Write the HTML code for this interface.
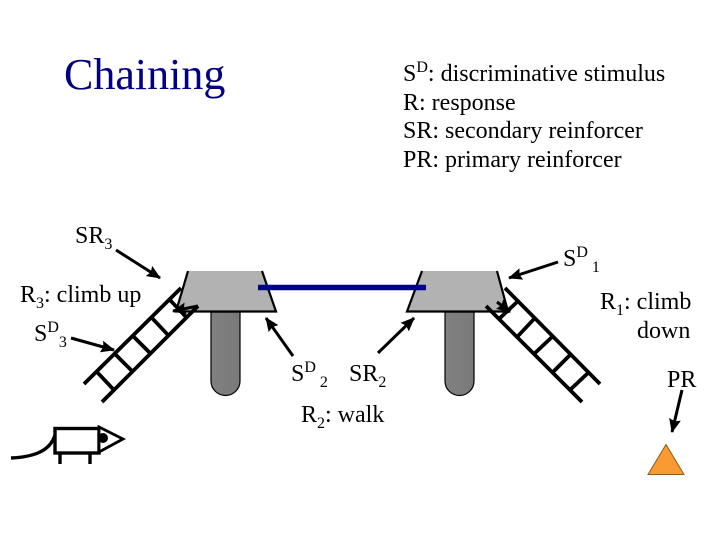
<!DOCTYPE html>
<html>
<head>
<meta charset="utf-8">
<style>
html,body{margin:0;padding:0;background:#fff;width:720px;height:540px;overflow:hidden}
svg{display:block}
text{font-family:"Liberation Serif",serif;fill:#000;font-size:24px}
.s{font-size:16px}
.u{font-size:16px}
</style>
</head>
<body>
<svg width="720" height="540" viewBox="0 0 720 540" xmlns="http://www.w3.org/2000/svg">
<defs>
<linearGradient id="g" x1="0" x2="1" y1="0" y2="0">
<stop offset="0" stop-color="#808080"/><stop offset="1" stop-color="#7a7a7a"/>
</linearGradient>
<marker id="a" markerUnits="userSpaceOnUse" markerWidth="14" markerHeight="12" refX="13" refY="6" orient="auto">
<path d="M0 0L14 6L0 12L2 6Z" fill="#000"/>
</marker>
</defs>

<text x="64" y="89" style="font-size:44px;fill:#000080">Chaining</text>

<text x="403" y="81">S<tspan class="u" dy="-9">D</tspan><tspan dy="9">: discriminative stimulus</tspan></text>
<text x="403" y="110">R: response</text>
<text x="403" y="138">SR: secondary reinforcer</text>
<text x="403" y="167">PR: primary reinforcer</text>

<!-- stems -->
<path d="M211 312V381a14.500 14.500 0 0 0 29 0V312Z" fill="url(#g)" stroke="#000" stroke-width="1.200"/>
<path d="M445 312V381a14.500 14.500 0 0 0 29 0V312Z" fill="url(#g)" stroke="#000" stroke-width="1.200"/>

<!-- platforms -->
<polygon points="188,271 262,271 276,311.500 176,311.500" fill="#b2b2b2"/>
<polygon points="422,271 497,271 508,311.500 407,311.500" fill="#b2b2b2"/>
<path d="M188 271L176 311.500H276L262 271" fill="none" stroke="#000" stroke-width="2.200"/>
<path d="M422 271L407 311.500H508L497 271" fill="none" stroke="#000" stroke-width="2.200"/>

<!-- beam -->
<line x1="258" y1="287.500" x2="426" y2="287.500" stroke="#000090" stroke-width="5.500"/>

<!-- left ladder -->
<g stroke="#000" stroke-width="3.800" fill="none">
<line x1="84" y1="384" x2="181" y2="288"/>
<line x1="102" y1="402" x2="198" y2="306"/>
<line x1="97" y1="372" x2="113" y2="389"/>
<line x1="115" y1="354" x2="132" y2="371"/>
<line x1="133" y1="336" x2="150" y2="353"/>
<line x1="152" y1="318" x2="168" y2="335"/>
<line x1="170" y1="300" x2="186" y2="317"/>
</g>

<!-- right ladder -->
<g stroke="#000" stroke-width="3.800" fill="none">
<line x1="505" y1="288" x2="600" y2="384"/>
<line x1="486" y1="306" x2="582" y2="402"/>
<line x1="517" y1="302" x2="500" y2="318"/>
<line x1="534" y1="319" x2="518" y2="336"/>
<line x1="552" y1="337" x2="535" y2="353"/>
<line x1="570" y1="355" x2="553" y2="372"/>
<line x1="588" y1="373" x2="571" y2="389"/>
</g>

<!-- arrows -->
<g stroke="#000" stroke-width="3" fill="none">
<line x1="116" y1="250" x2="160" y2="278" marker-end="url(#a)"/>
<line x1="71" y1="338" x2="114" y2="350" marker-end="url(#a)"/>
<line x1="198" y1="306" x2="173" y2="311" marker-end="url(#a)"/>
<line x1="293" y1="356" x2="266" y2="318" marker-end="url(#a)"/>
<line x1="378" y1="353" x2="414" y2="318" marker-end="url(#a)"/>
<line x1="558" y1="262" x2="509" y2="278" marker-end="url(#a)"/>
<line x1="682" y1="390" x2="672" y2="432" marker-end="url(#a)"/>
<line x1="497" y1="302" x2="510" y2="312" marker-end="url(#a)"/>
</g>

<!-- triangle -->
<polygon points="666,444.500 648,474.500 684,474.500" fill="#f99b30" stroke="#8a5a20" stroke-width="1"/>

<!-- mouse -->
<g stroke="#000" stroke-width="3.400" fill="none">
<rect x="55" y="428.500" width="44" height="24.500" fill="#fff"/>
<path d="M60 453V464M90 453V464"/>
<polygon points="99,427 123,439 99,452" fill="#fff" stroke-width="2.800"/>
<path d="M11 458C32 457 50 452 55 435"/>
</g>
<circle cx="103" cy="438" r="5" fill="#000"/>

<!-- labels -->
<text x="75" y="243">SR<tspan class="s" dy="6">3</tspan></text>
<text x="20" y="302">R<tspan class="s" dy="6">3</tspan><tspan dy="-6">: climb up</tspan></text>
<text x="34" y="341">S<tspan class="u" dy="-9">D</tspan><tspan class="s" dy="15">3</tspan></text>
<text x="563" y="266">S<tspan class="u" dy="-9">D</tspan><tspan class="s" dy="15"> 1</tspan></text>
<text x="600" y="309">R<tspan class="s" dy="6">1</tspan><tspan dy="-6">: climb</tspan></text>
<text x="637" y="338">down</text>
<text x="667" y="387">PR</text>
<text x="291" y="381">S<tspan class="u" dy="-9">D</tspan><tspan class="s" dy="15"> 2</tspan></text>
<text x="349" y="381">SR<tspan class="s" dy="6">2</tspan></text>
<text x="301" y="422">R<tspan class="s" dy="6">2</tspan><tspan dy="-6">: walk</tspan></text>
</svg>
</body>
</html>
